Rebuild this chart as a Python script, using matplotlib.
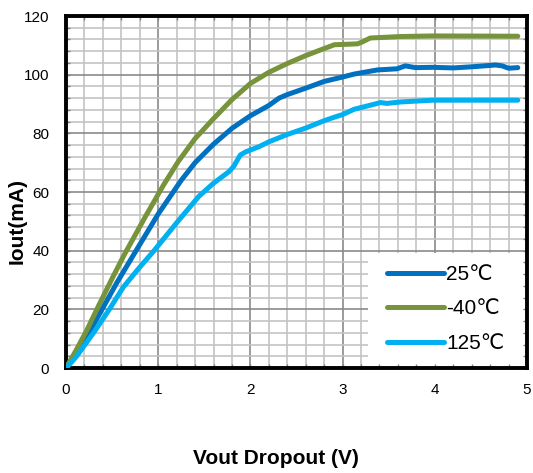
import matplotlib
matplotlib.use('Agg')
import matplotlib.pyplot as plt
import numpy as np
from matplotlib.patches import Rectangle

plt.rcParams['font.family'] = ['Liberation Sans', 'DejaVu Sans']

# ---- data ----
v_25 = [0, 0.1, 0.25, 0.4, 0.55, 0.76, 1.0, 1.25, 1.4, 1.6, 1.8, 2.0, 2.2, 2.31, 2.4,
        2.6, 2.8, 3.0, 3.125, 3.375, 3.59, 3.68, 3.79, 3.98, 4.2, 4.41, 4.66, 4.73, 4.8, 4.9]
i_25 = [0, 4.5, 12, 20.5, 29, 40, 52.5, 64, 70, 76.3, 81.7, 86, 89.5, 92, 93.2,
        95.4, 97.7, 99.2, 100.2, 101.6, 102, 103, 102.4, 102.5, 102.3, 102.7, 103.3, 103, 102.2, 102.4]

v_m40 = [0, 0.1, 0.22, 0.35, 0.5, 0.63, 0.85, 1.06, 1.22, 1.4, 1.6, 1.8, 2.0, 2.2, 2.4,
         2.6, 2.75, 2.91, 3.16, 3.21, 3.30, 3.63, 3.98, 4.9]
i_m40 = [0, 5.5, 12.5, 21, 30.5, 38.5, 51, 62.5, 70.5, 78.2, 85, 91.5, 97, 100.8, 103.8,
         106.5, 108.3, 110.2, 110.5, 111.1, 112.5, 113, 113.2, 113.1]

v_125 = [0, 0.06, 0.115, 0.31, 0.47, 0.62, 0.79, 0.955, 1.2, 1.44, 1.6, 1.77, 1.82, 1.89,
         1.95, 2.09, 2.2, 2.4, 2.6, 2.8, 2.91, 3.0, 3.125, 3.34, 3.41, 3.48, 3.63, 3.98, 4.9]
i_125 = [0, 2, 4, 12.5, 20, 27.5, 34, 40, 49.5, 58.5, 63, 67, 68.8, 72.6,
         73.7, 75.4, 77.1, 79.6, 81.8, 84.3, 85.5, 86.4, 88.2, 89.9, 90.5, 90.2, 90.7, 91.3, 91.3]

series_labels = ['25\u2103', '-40\u2103', '125\u2103']
series_colors = ['#0070C0', '#77933C', '#00B0F0']
x_ticks = [0, 1, 2, 3, 4, 5]
y_ticks = [0, 20, 40, 60, 80, 100, 120]
x_label = 'Vout Dropout (V)'
y_label = 'Iout(mA)'

# ---- figure ----
W, H = 533, 473
fig = plt.figure(figsize=(W / 100, H / 100), dpi=100)
ax = fig.add_axes([66 / W, 1 - 368 / H, 461 / W, 352 / H])
ax.set_xlim(0, 5)
ax.set_ylim(0, 120)

minor_c = '#c3c3c3'
major_c = '#8a8a8a'
for x in np.arange(0.2, 5.0, 0.2):
    is_major = abs(x - round(x)) < 1e-6
    ax.axvline(x, color=major_c if is_major else minor_c, lw=1.2, zorder=0.5)
for y in np.arange(4, 120, 4):
    is_major = abs(y % 20) < 1e-6
    ax.axhline(y, color=major_c if is_major else minor_c, lw=1.2, zorder=0.5)

# white legend background
ax.add_patch(Rectangle((0.655, 0), 0.345, 0.327, transform=ax.transAxes,
                       facecolor='white', edgecolor='none', zorder=1.5))

handles = []
for vx, iy, lab, col in zip([v_25, v_m40, v_125], [i_25, i_m40, i_125],
                            series_labels, series_colors):
    h, = ax.plot(vx, iy, color=col, lw=3.6, solid_capstyle='round',
                 solid_joinstyle='round', label=lab, zorder=3)
    handles.append(h)

ax.set_xticks(x_ticks)
ax.set_yticks(y_ticks)
ax.set_xticks(np.arange(0, 5.01, 0.2), minor=True)
ax.set_yticks(np.arange(0, 120.1, 4), minor=True)
ax.tick_params(which='both', direction='in', length=3.2, width=1, color='#808080',
               top=True, right=True)
ax.tick_params(axis='x', which='major', labelsize=11, pad=11)
ax.tick_params(axis='y', which='major', labelsize=11, pad=12)

for sp in ax.spines.values():
    sp.set_linewidth(2.8)
    sp.set_color('black')

leg = ax.legend(handles=handles, loc='upper left', bbox_to_anchor=(0.696, 0.293),
                frameon=False, fontsize=15, handlelength=2.74, handletextpad=0.1,
                labelspacing=0.75, borderpad=0, borderaxespad=0)
leg.set_zorder(4)

fig.text(276 / W, 1 - 458 / H, x_label, ha='center', va='center',
         fontsize=15, fontweight='bold')
fig.text(17 / W, 1 - 221 / H, y_label, ha='center', va='center', rotation=90,
         fontsize=15, fontweight='bold')

fig.savefig('out.png', dpi=100)
